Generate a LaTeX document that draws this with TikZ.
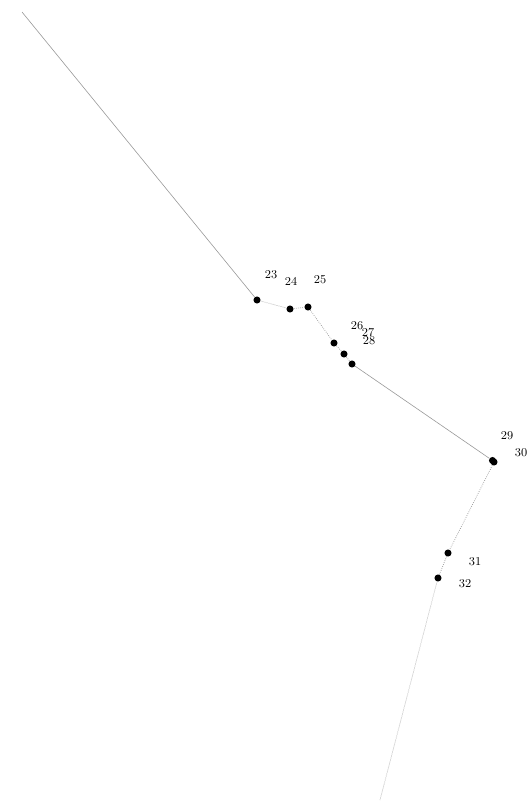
\documentclass[tikz,border=0pt]{standalone}
\begin{document}
\begin{tikzpicture}[x=0.75pt,y=-0.75pt]
\tikzset{
  pt/.style={circle,fill=black,inner sep=0pt,minimum size=5.3pt},
  trail/.style={gray!80,line width=0.45pt},
  trailx/.style={gray!80,line width=0.55pt,densely dotted},
  num/.style={font=\small,inner sep=0pt}
}
\useasboundingbox (0,0) rectangle (530,810);

\coordinate (top) at (22,12);
\coordinate (bot) at (380,800);

\node[pt] (p23) at (257,300) {};
\node[pt] (p24) at (290,309) {};
\node[pt] (p25) at (308,307) {};
\node[pt] (p26) at (334,343) {};
\node[pt] (p27) at (344,354) {};
\node[pt] (p28) at (352,364) {};
\node[pt] (p29) at (492.5,460.5) {};
\node[pt] (p30) at (494,462) {};
\node[pt] (p31) at (448,553) {};
\node[pt] (p32) at (438,578) {};

\draw[trail] (top) -- (p23);
\draw[trailx] (p23) -- (p24) -- (p25) -- (p26);
\draw[trailx] (p26) -- (p27) -- (p28);
\draw[trail] (p28) -- (p29);
\draw[trailx] (p30) -- (p31) -- (p32);
\draw[trailx] (p32) -- (bot);

\node[num] (l23) at (271,275) {23};
\node[num] (l24) at (291,281) {24};
\node[num] (l25) at (320,280) {25};
\node[num] (l26) at (357,326) {26};
\node[num] (l27) at (368,333) {27};
\node[num] (l28) at (369,341) {28};
\node[num] (l29) at (507,436) {29};
\node[num] (l30) at (521,453) {30};
\node[num] (l31) at (475,562) {31};
\node[num] (l32) at (465,584) {32};
\end{tikzpicture}
\end{document}
